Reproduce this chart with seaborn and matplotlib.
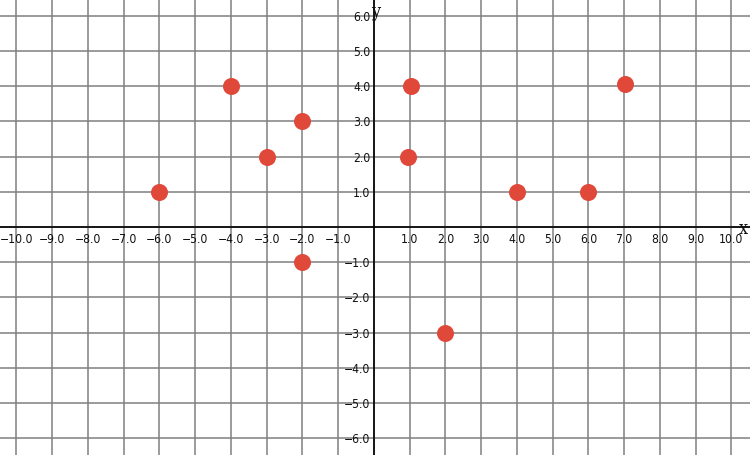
import matplotlib
matplotlib.use("Agg")
import matplotlib.pyplot as plt
import seaborn as sns
import pandas as pd

# data
point_x = [-6, -4, -3, -2, -2, 0.95, 1.05, 2, 4, 6, 7.03]
point_y = [1, 4, 2, 3, -1, 2, 4, -3, 1, 1, 4.05]
x_ticks = [-10, -9, -8, -7, -6, -5, -4, -3, -2, -1, 1, 2, 3, 4, 5, 6, 7, 8, 9, 10]
y_ticks = [-6, -5, -4, -3, -2, -1, 1, 2, 3, 4, 5, 6]
x_tick_labels = [f"{v:.1f}".replace("-", "\u2212") for v in x_ticks]
y_tick_labels = [f"{v:.1f}".replace("-", "\u2212") for v in y_ticks]

sns.set_style("white")
plt.rcParams["font.family"] = ["DejaVu Sans"]
plt.rcParams["font.stretch"] = "condensed"

df = pd.DataFrame({"x": point_x, "y": point_y})

fig = plt.figure(figsize=(7.5, 4.55), dpi=100)
ax = fig.add_axes([0, 0, 1, 1])

sns.scatterplot(data=df, x="x", y="y", ax=ax, s=150, color="#E0483A",
                linewidth=0, zorder=3)

ax.set_xlim(-10.46, 10.52)
ax.set_ylim(-6.48, 6.45)

# grid at integer positions
for v in range(-10, 11):
    ax.axvline(v, color="#808080", lw=1.1, zorder=0)
for v in range(-6, 7):
    ax.axhline(v, color="#808080", lw=1.1, zorder=0)

for s in ["top", "right"]:
    ax.spines[s].set_visible(False)
ax.spines["left"].set_position(("data", 0))
ax.spines["bottom"].set_position(("data", 0))
for s in ["left", "bottom"]:
    ax.spines[s].set_color("black")
    ax.spines[s].set_linewidth(1.2)
    ax.spines[s].set_zorder(2)

ax.set_xticks(x_ticks)
ax.set_xticklabels(x_tick_labels)
ax.set_yticks(y_ticks)
ax.set_yticklabels(y_tick_labels)
ax.tick_params(axis="both", direction="inout", length=9, width=1.0,
               color="black", labelsize=8.7, labelcolor="#111111")
ax.tick_params(axis="x", pad=0)
ax.tick_params(axis="y", pad=-2)
ax.set_xlabel("")
ax.set_ylabel("")

ax.text(0.05, 6.12, "y", ha="center", va="center", fontsize=13,
        family=["DejaVu Serif"], color="#111111", zorder=4)
ax.text(10.34, -0.06, "x", ha="center", va="center", fontsize=13,
        family=["DejaVu Serif"], color="#111111", zorder=4)

fig.savefig("out.png", dpi=100)
